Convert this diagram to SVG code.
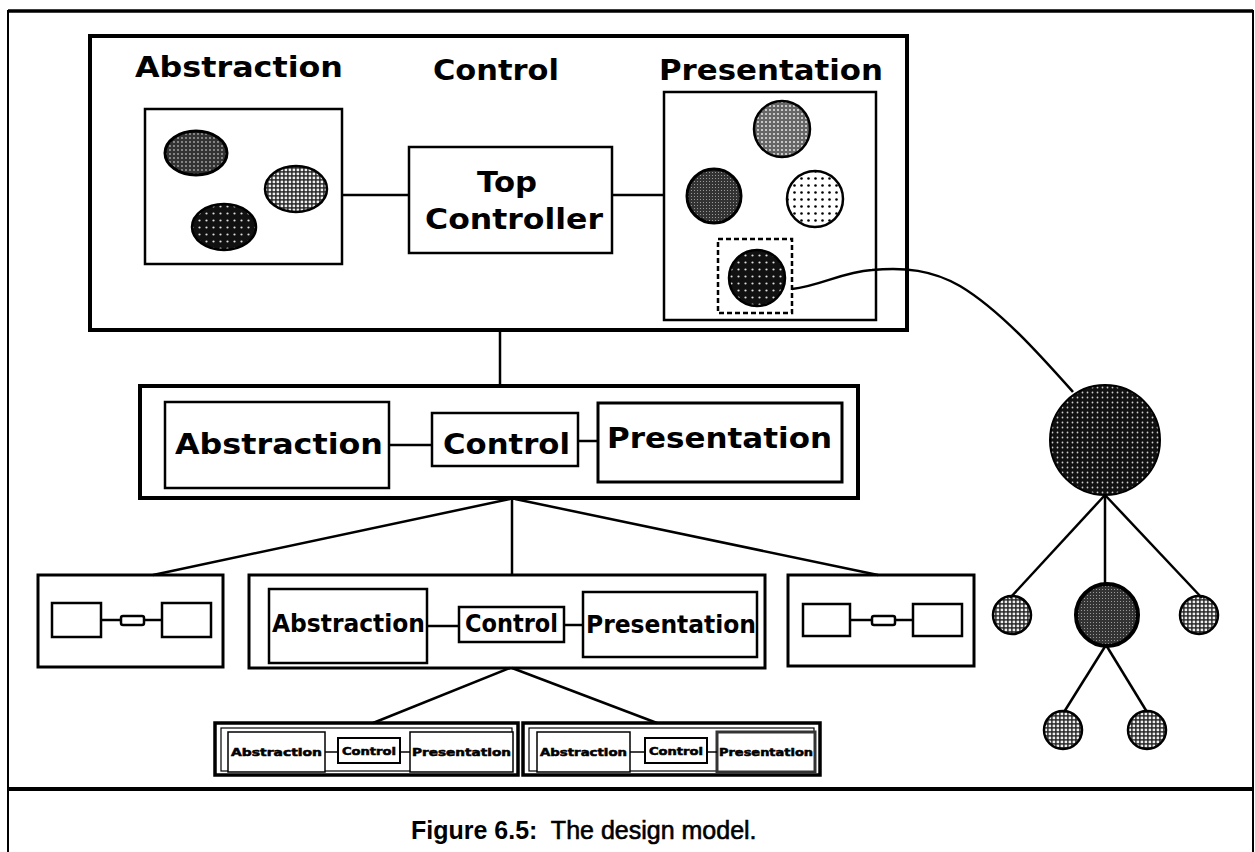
<svg xmlns="http://www.w3.org/2000/svg" width="1255" height="852" viewBox="0 0 1255 852">
<style>
.box{fill:#fff;stroke:#000}
.b4{stroke-width:4}
.b3{stroke-width:3}
.b2{stroke-width:2.5}
.b1{stroke-width:1.5}
.lbl{font-family:"DejaVu Sans",sans-serif;font-weight:bold;fill:#000}
.tiny{font-family:"DejaVu Sans",sans-serif;font-weight:bold;font-size:10px;fill:#000;stroke:#000;stroke-width:0.5}
.con{stroke:#000;stroke-width:2.5;fill:none}
.thin{stroke:#000;stroke-width:1.5;fill:none}
.cap{font-family:"Liberation Sans",Arial,sans-serif;font-size:25px;fill:#000}
</style>
<defs>
<pattern id="pBlackDots" width="7" height="7" patternUnits="userSpaceOnUse">
<rect width="7" height="7" fill="#111"/><circle cx="3.5" cy="3.5" r="1.1" fill="#ddd"/>
</pattern>
<pattern id="pBlackDotsFine" width="5" height="5" patternUnits="userSpaceOnUse">
<rect width="5" height="5" fill="#111"/><circle cx="2.5" cy="2.5" r="0.9" fill="#ccc"/>
</pattern>
<pattern id="pDarkGray" width="3" height="3" patternUnits="userSpaceOnUse">
<rect width="3" height="3" fill="#333"/><rect x="1" y="1" width="1" height="1" fill="#999"/>
</pattern>
<pattern id="pDarkMix" width="4" height="4" patternUnits="userSpaceOnUse">
<rect width="4" height="4" fill="#333"/><circle cx="2" cy="2" r="0.9" fill="#aaa"/>
</pattern>
<pattern id="pGrid" width="4" height="4" patternUnits="userSpaceOnUse">
<rect width="4" height="4" fill="#222"/><rect x="0.6" y="0.6" width="2.6" height="2.6" fill="#eee"/>
</pattern>
<pattern id="pMidGray" width="4" height="4" patternUnits="userSpaceOnUse">
<rect width="4" height="4" fill="#666"/><circle cx="2" cy="2" r="1.1" fill="#ddd"/>
</pattern>
<pattern id="pWhiteDots" width="7" height="7" patternUnits="userSpaceOnUse">
<rect width="7" height="7" fill="#fff"/><circle cx="3.5" cy="3.5" r="1.3" fill="#000"/>
</pattern>
</defs>

<rect width="1255" height="852" fill="#fff"/>

<g id="frame">
<path d="M8,852 V11 H1253 V852" fill="none" stroke="#000" stroke-width="2"/>
<line x1="8" y1="11" x2="1253" y2="11" stroke="#000" stroke-width="3.5"/>
<line x1="7" y1="789" x2="1254" y2="789" stroke="#000" stroke-width="4"/>
</g>

<g id="top-agent">
<rect class="box b4" x="90" y="36" width="817" height="294"/>
<text class="lbl" x="135" y="77" font-size="29" textLength="208" lengthAdjust="spacingAndGlyphs">Abstraction</text>
<text class="lbl" x="433" y="80" font-size="29" textLength="126" lengthAdjust="spacingAndGlyphs">Control</text>
<text class="lbl" x="659" y="80" font-size="29" textLength="224" lengthAdjust="spacingAndGlyphs">Presentation</text>
</g>

<g id="top-abstraction">
<rect class="box b2" x="145" y="109" width="197" height="155"/>
<ellipse cx="196" cy="153" rx="31" ry="22" fill="url(#pDarkMix)" stroke="#000" stroke-width="3"/>
<ellipse cx="296" cy="189" rx="31" ry="23" fill="url(#pGrid)" stroke="#000" stroke-width="2.5"/>
<ellipse cx="224" cy="227" rx="32" ry="23" fill="url(#pBlackDots)" stroke="#000" stroke-width="2.5"/>
</g>

<g id="top-controller">
<rect class="box b2" x="409" y="147" width="203" height="106"/>
<text class="lbl" x="477" y="192" font-size="29" textLength="60" lengthAdjust="spacingAndGlyphs">Top</text>
<text class="lbl" x="425" y="229" font-size="29" textLength="178" lengthAdjust="spacingAndGlyphs">Controller</text>
</g>

<g id="top-presentation">
<rect class="box b2" x="664" y="92" width="212" height="228"/>
<circle cx="782" cy="129" r="28" fill="url(#pMidGray)" stroke="#000" stroke-width="2.5"/>
<circle cx="714" cy="196" r="27" fill="url(#pDarkGray)" stroke="#000" stroke-width="3"/>
<circle cx="815" cy="199" r="28" fill="url(#pWhiteDots)" stroke="#000" stroke-width="2.5"/>
<rect x="718" y="239" width="74" height="74" fill="none" stroke="#000" stroke-width="2.5" stroke-dasharray="5,3"/>
<circle cx="757" cy="278" r="28" fill="url(#pBlackDots)" stroke="#000" stroke-width="2.5"/>
</g>

<g id="mid-agent">
<rect class="box b4" x="140" y="386" width="718" height="112"/>
<rect class="box b2" x="165" y="402" width="224" height="86"/>
<text class="lbl" x="175" y="454" font-size="29" textLength="208" lengthAdjust="spacingAndGlyphs">Abstraction</text>
<rect class="box b2" x="432" y="413" width="146" height="53"/>
<text class="lbl" x="443" y="454" font-size="29" textLength="127" lengthAdjust="spacingAndGlyphs">Control</text>
<rect class="box b3" x="598" y="403" width="244" height="79"/>
<text class="lbl" x="607" y="448" font-size="29" textLength="225" lengthAdjust="spacingAndGlyphs">Presentation</text>
</g>

<g id="left-agent">
<rect class="box b3" x="38" y="575" width="185" height="92"/>
<rect class="box b2" x="52" y="603" width="49" height="34"/>
<rect class="box b2" x="121" y="616" width="23" height="9" rx="2"/>
<rect class="box b2" x="162" y="603" width="49" height="34"/>
</g>

<g id="center-agent">
<rect class="box b3" x="249" y="575" width="516" height="93"/>
<rect class="box b2" x="269" y="589" width="158" height="74"/>
<text class="lbl" x="272" y="632" font-size="24" textLength="153" lengthAdjust="spacingAndGlyphs">Abstraction</text>
<rect class="box b2" x="459" y="607" width="105" height="35"/>
<text class="lbl" x="465" y="632" font-size="24" textLength="93" lengthAdjust="spacingAndGlyphs">Control</text>
<rect class="box b2" x="583" y="592" width="174" height="65"/>
<text class="lbl" x="586" y="633" font-size="24" textLength="170" lengthAdjust="spacingAndGlyphs">Presentation</text>
</g>

<g id="right-agent">
<rect class="box b3" x="788" y="575" width="186" height="91"/>
<rect class="box b2" x="803" y="604" width="47" height="32"/>
<rect class="box b2" x="872" y="616" width="23" height="9" rx="2"/>
<rect class="box b2" x="913" y="604" width="49" height="32"/>
</g>

<g id="sub-agent-1">
<rect class="box" x="215" y="723" width="303" height="52" stroke-width="3.5"/>
<rect x="221" y="728" width="291" height="43" fill="none" stroke="#000" stroke-width="1.2"/>
<rect class="box b1" x="228" y="732" width="97" height="40"/>
<text class="tiny" x="231" y="756" textLength="91" lengthAdjust="spacingAndGlyphs">Abstraction</text>
<rect class="box" x="338" y="738" width="62" height="25" stroke-width="2"/>
<text class="tiny" x="342" y="755" textLength="54" lengthAdjust="spacingAndGlyphs">Control</text>
<rect class="box b1" x="410" y="732" width="103" height="40"/>
<text class="tiny" x="412" y="756" textLength="99" lengthAdjust="spacingAndGlyphs">Presentation</text>
</g>

<g id="sub-agent-2">
<rect class="box" x="523" y="723" width="297" height="52" stroke-width="3.5"/>
<rect x="529" y="728" width="285" height="43" fill="none" stroke="#000" stroke-width="1.2"/>
<rect class="box b1" x="537" y="732" width="93" height="40"/>
<text class="tiny" x="540" y="756" textLength="87" lengthAdjust="spacingAndGlyphs">Abstraction</text>
<rect class="box" x="645" y="738" width="62" height="25" stroke-width="2"/>
<text class="tiny" x="649" y="755" textLength="54" lengthAdjust="spacingAndGlyphs">Control</text>
<rect x="717" y="732" width="98" height="40" fill="#fff" stroke="#333" stroke-width="3"/>
<text class="tiny" x="719" y="756" textLength="94" lengthAdjust="spacingAndGlyphs">Presentation</text>
</g>

<g id="tree-root">
<circle cx="1105" cy="440" r="55" fill="url(#pBlackDotsFine)" stroke="#000" stroke-width="2"/>
</g>
<g id="tree-left">
<circle cx="1012" cy="615" r="19" fill="url(#pGrid)" stroke="#000" stroke-width="2.5"/>
</g>
<g id="tree-mid">
<circle cx="1107" cy="615" r="31" fill="url(#pDarkGray)" stroke="#000" stroke-width="4"/>
</g>
<g id="tree-right">
<circle cx="1199" cy="615" r="19" fill="url(#pGrid)" stroke="#000" stroke-width="2.5"/>
</g>
<g id="tree-bl">
<circle cx="1063" cy="730" r="19" fill="url(#pGrid)" stroke="#000" stroke-width="2.5"/>
</g>
<g id="tree-br">
<circle cx="1147" cy="730" r="19" fill="url(#pGrid)" stroke="#000" stroke-width="2.5"/>
</g>

<g id="connectors">
<line class="con" x1="342" y1="195" x2="409" y2="195"/>
<line class="con" x1="612" y1="195" x2="664" y2="195"/>
<path class="con" d="M792,289 C820,286 842,272 872,270 C905,267 932,270 960,286 C1000,310 1040,355 1073,392"/>
<line class="con" x1="500" y1="332" x2="500" y2="386"/>
<line class="con" x1="389" y1="445" x2="432" y2="445"/>
<line class="con" x1="578" y1="441" x2="598" y2="441"/>
<line class="con" x1="510" y1="499" x2="153" y2="575"/>
<line class="con" x1="512" y1="499" x2="512" y2="575"/>
<line class="con" x1="515" y1="499" x2="878" y2="575"/>
<line class="con" x1="427" y1="626" x2="459" y2="626"/>
<line class="con" x1="564" y1="625" x2="583" y2="625"/>
<line class="con" x1="101" y1="620" x2="121" y2="620"/>
<line class="con" x1="144" y1="620" x2="162" y2="620"/>
<line class="con" x1="850" y1="620" x2="872" y2="620"/>
<line class="con" x1="895" y1="620" x2="913" y2="620"/>
<line class="con" x1="510" y1="668" x2="373" y2="723"/>
<line class="con" x1="512" y1="668" x2="657" y2="723"/>
<line class="con" x1="1105" y1="495" x2="1010" y2="598"/>
<line class="con" x1="1105" y1="495" x2="1105" y2="585"/>
<line class="con" x1="1105" y1="495" x2="1202" y2="598"/>
<line class="con" x1="1106" y1="645" x2="1064" y2="712"/>
<line class="con" x1="1106" y1="645" x2="1147" y2="712"/>
<line class="thin" x1="325" y1="752" x2="338" y2="752"/>
<line class="thin" x1="400" y1="752" x2="410" y2="752"/>
<line class="thin" x1="630" y1="752" x2="645" y2="752"/>
<line class="thin" x1="707" y1="752" x2="717" y2="752"/>
</g>

<g id="caption">
<text class="cap" x="411" y="839"><tspan font-weight="bold">Figure 6.5:</tspan><tspan xml:space="preserve" stroke="#000" stroke-width="0.6">  The design model.</tspan></text>
</g>
</svg>
